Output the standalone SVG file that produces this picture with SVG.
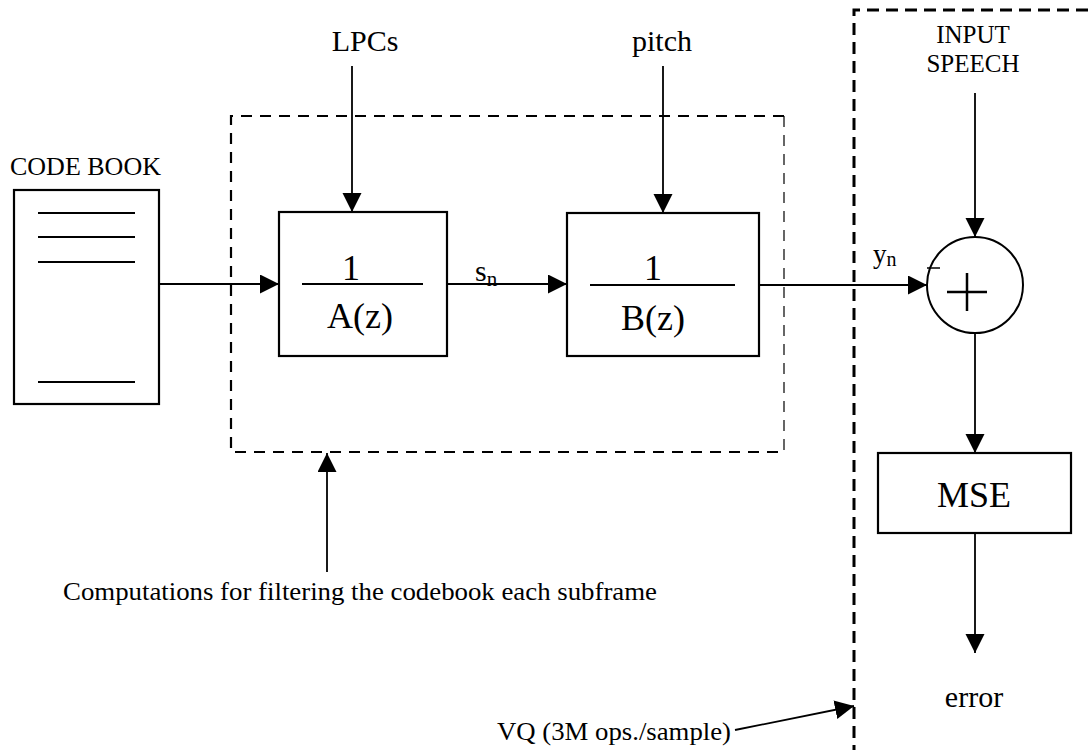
<svg xmlns="http://www.w3.org/2000/svg" width="1088" height="750" viewBox="0 0 1088 750">
<style>
text{font-family:"Liberation Serif","Times New Roman","DejaVu Serif",serif;fill:#000}
.box{fill:none;stroke:#000;stroke-width:2.2}
.ln{fill:none;stroke:#000;stroke-width:2}
.arr{fill:none;stroke:#000;stroke-width:1.8;marker-end:url(#ah)}
.dash1{fill:none;stroke:#000;stroke-width:2.2;stroke-dasharray:11 8}
.dash1r{fill:none;stroke:#000;stroke-width:1.2;stroke-dasharray:11 8}
.dash2{fill:none;stroke:#000;stroke-width:3;stroke-dasharray:12 7}
</style>
<defs>
<marker id="ah" markerUnits="userSpaceOnUse" markerWidth="20" markerHeight="20" refX="19" refY="9.5" orient="auto">
<path d="M0,0 L19,9.5 L0,19 z" fill="#000"/>
</marker>
</defs>
<rect width="1088" height="750" fill="#fff"/>

<g font-family="'Liberation Serif','Times New Roman','DejaVu Serif',serif">
<g id="filter-region">
<path class="dash1" d="M784,116 L231,116 L231,452 L784,452"/>
<path class="dash1r" d="M784,116 L784,452"/>
</g>
<g id="vq-region">
<path class="dash2" d="M1088,10 L854,10 L854,750"/>
</g>

<g id="codebook">
<text x="10" y="175" font-size="26">CODE BOOK</text>
<rect class="box" x="14" y="190" width="145" height="214"/>
<path class="ln" d="M38,213 H135 M38,237 H135 M38,262 H135 M38,382 H135"/>
</g>

<g id="lpcs"><text x="365" y="51" font-size="30" text-anchor="middle">LPCs</text></g>
<g id="pitch"><text x="662" y="51" font-size="30" text-anchor="middle">pitch</text></g>

<g id="filterA">
<rect class="box" x="279" y="212" width="168" height="144"/>
<path class="ln" d="M302,284 H423"/>
<text x="351" y="280" font-size="36" text-anchor="middle">1</text>
<text x="360" y="328" font-size="36" text-anchor="middle">A(z)</text>
</g>

<g id="filterB">
<rect class="box" x="567" y="213" width="192" height="143"/>
<path class="ln" d="M590,285 H735"/>
<text x="653" y="280" font-size="36" text-anchor="middle">1</text>
<text x="653" y="330" font-size="36" text-anchor="middle">B(z)</text>
</g>

<g id="sn-label"><text x="475" y="281" font-size="30">s<tspan font-size="21" dy="5">n</tspan></text></g>

<g id="input-speech">
<text x="973" y="43" font-size="25" text-anchor="middle">INPUT</text>
<text x="973" y="72" font-size="25" text-anchor="middle">SPEECH</text>
</g>

<g id="summer">
<circle cx="975" cy="285" r="48" fill="none" stroke="#000" stroke-width="2"/>
<path d="M947,292 H987 M967,273 V311" stroke="#000" stroke-width="2.5" fill="none"/>
<path d="M927,268 H940" stroke="#000" stroke-width="1.5"/>
</g>
<g id="yn-label"><text x="873" y="263" font-size="27">y<tspan font-size="20" dy="3">n</tspan></text></g>

<g id="mse">
<rect class="box" x="878" y="453" width="193" height="80"/>
<text x="974" y="507" font-size="36" text-anchor="middle">MSE</text>
</g>
<g id="error"><text x="974" y="707" font-size="30" text-anchor="middle">error</text></g>

<g id="comp-label"><text x="63" y="600" font-size="26" textLength="594" lengthAdjust="spacingAndGlyphs">Computations for filtering the codebook each subframe</text></g>
<g id="vq-label"><text x="497" y="740" font-size="26" textLength="234" lengthAdjust="spacingAndGlyphs">VQ (3M ops./sample)</text></g>

<g id="connectors">
<path class="arr" d="M352,66 V212"/>
<path class="arr" d="M663,66 V213"/>
<path class="arr" d="M159,284 H279"/>
<path class="arr" d="M447,284 H567"/>
<path class="arr" d="M759,285 H927"/>
<path class="arr" d="M975,93 V237"/>
<path class="arr" d="M975,333 V453"/>
<path class="arr" d="M975,533 V653"/>
<path class="arr" d="M327,572 V453"/>
<path class="arr" d="M735,730 L854,706"/>
</g>
</g>
</svg>
